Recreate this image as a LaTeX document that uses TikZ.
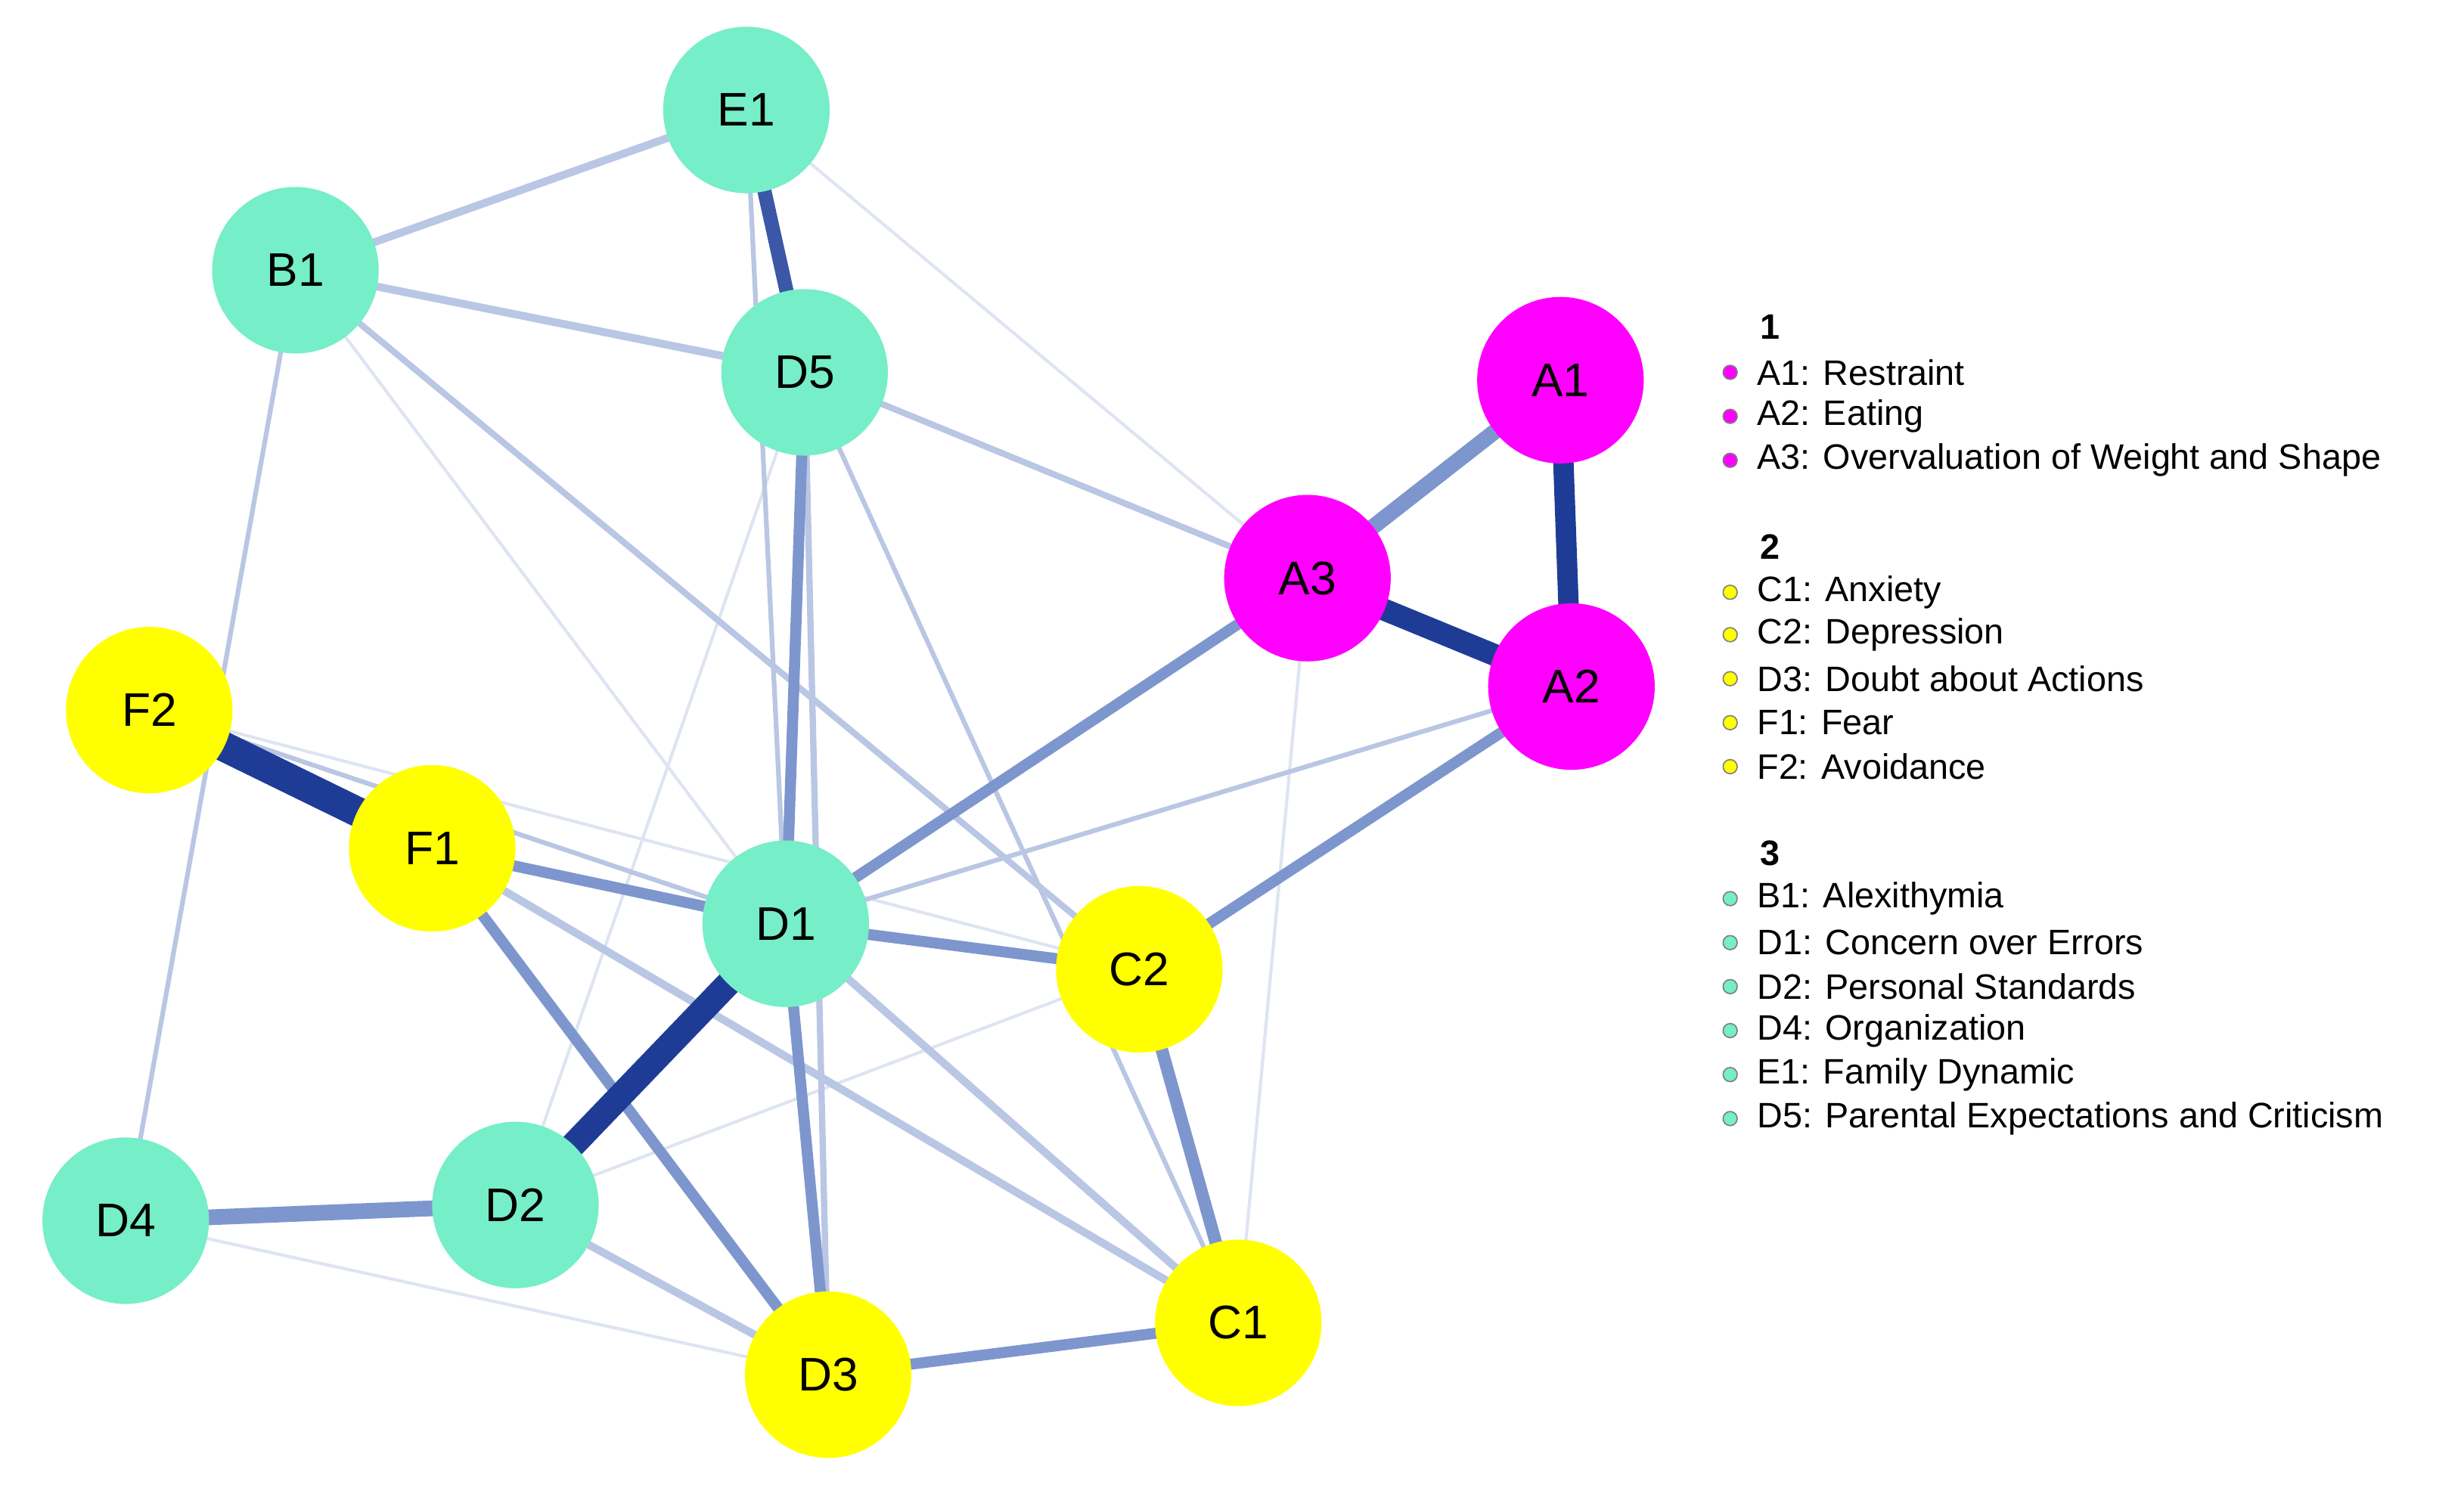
\documentclass[tikz,border=0pt]{standalone}
\usepackage{fontspec}
\setmainfont{Liberation Sans}
\begin{document}
\begin{tikzpicture}[x=1pt,y=-1pt,
  nd/.style={circle,minimum size=106pt,inner sep=0pt,font=\fontsize{30}{30}\selectfont},
  cy/.style={nd,fill=cyanN},
  ye/.style={nd,fill=yelN},
  ma/.style={nd,fill=magN},
  e/.style={line width=#1},
  dk/.style={draw=edk},
  md/.style={draw=emd},
  lt/.style={draw=elt},
  fa/.style={draw=efa},
  lg/.style={anchor=west,font=\fontsize{22.5}{22.5}\selectfont,inner sep=0pt},
  lh/.style={lg,font=\fontsize{22.5}{22.5}\selectfont\bfseries},
  dot/.style={circle,draw=gray,line width=0.8pt,minimum size=9pt,inner sep=0pt}]
\definecolor{cyanN}{RGB}{118,238,200}
\definecolor{yelN}{RGB}{255,255,0}
\definecolor{magN}{RGB}{255,0,255}
\definecolor{edk}{RGB}{30,60,150}
\definecolor{emd}{RGB}{125,150,205}
\definecolor{elt}{RGB}{185,198,228}
\definecolor{efa}{RGB}{222,228,242}
\useasboundingbox (0,0) rectangle (1568,947);
\path
 (475,70) coordinate (pE1) (188,172) coordinate (pB1) (512,237) coordinate (pD5)
 (993,242) coordinate (pA1) (832,368) coordinate (pA3) (1000,437) coordinate (pA2)
 (95,452) coordinate (pF2) (275,540) coordinate (pF1) (500,588) coordinate (pD1)
 (725,617) coordinate (pC2) (80,777) coordinate (pD4) (328,767) coordinate (pD2)
 (527,875) coordinate (pD3) (788,842) coordinate (pC1);
% edges
\draw[fa,e=2] (pE1)--(pA3);
\draw[fa,e=2] (pB1)--(pD1);
\draw[fa,e=2] (pF2)--(pC2);
\draw[fa,e=2] (pD4)--(pD3);
\draw[fa,e=2] (pA3)--(pC1);
\draw[fa,e=2] (pD5)--(pD2);
\draw[fa,e=2] (pD2)--(pC2);
\draw[lt,e=3] (pB1)--(pD4);
\draw[lt,e=3] (pE1)--(pD1);
\draw[lt,e=3] (pD5)--(pC1);
\draw[lt,e=3] (pA2)--(pD1);
\draw[lt,e=3] (pF2)--(pD1);
\draw[lt,e=4] (pD5)--(pA3);
\draw[lt,e=4] (pD5)--(pD3);
\draw[lt,e=5] (pE1)--(pB1);
\draw[lt,e=5] (pB1)--(pD5);
\draw[lt,e=4] (pB1)--(pC2);
\draw[lt,e=5] (pF1)--(pC1);
\draw[lt,e=5] (pD1)--(pC1);
\draw[lt,e=5] (pD2)--(pD3);
\draw[md,e=7] (pD5)--(pD1);
\draw[md,e=7] (pA3)--(pD1);
\draw[md,e=7] (pA2)--(pC2);
\draw[md,e=7] (pF1)--(pD1);
\draw[md,e=7] (pF1)--(pD3);
\draw[md,e=7] (pD1)--(pC2);
\draw[md,e=7] (pD1)--(pD3);
\draw[md,e=7] (pD3)--(pC1);
\draw[md,e=8] (pC2)--(pC1);
\draw[md,e=10] (pA1)--(pA3);
\draw[md,e=10] (pD4)--(pD2);
\draw[draw=edk!70!emd,e=9] (pE1)--(pD5);
\draw[dk,e=13] (pA1)--(pA2);
\draw[dk,e=14] (pA3)--(pA2);
\draw[dk,e=16] (pD1)--(pD2);
\draw[dk,e=19] (pF2)--(pF1);
% nodes
\node[cy] (E1) at (pE1) {E1};
\node[cy] (B1) at (pB1) {B1};
\node[cy] (D5) at (pD5) {D5};
\node[ma] (A1) at (pA1) {A1};
\node[ma] (A3) at (pA3) {A3};
\node[ma] (A2) at (pA2) {A2};
\node[ye] (F2) at (pF2) {F2};
\node[ye] (F1) at (pF1) {F1};
\node[cy] (D1) at (pD1) {D1};
\node[ye] (C2) at (pC2) {C2};
\node[cy] (D4) at (pD4) {D4};
\node[cy] (D2) at (pD2) {D2};
\node[ye] (D3) at (pD3) {D3};
\node[ye] (C1) at (pC1) {C1};
% legend
\node[lh] (h1) at (1120,208) {1};
\node[lh] (h2) at (1120,348) {2};
\node[lh] (h3) at (1120,543) {3};
\foreach \y/\t/\c [count=\i] in {
 237/A1: Restraint/magN, 265/A2: Eating/magN, 293/A3: Overvaluation of Weight and Shape/magN,
 377/C1: Anxiety/yelN, 404/C2: Depression/yelN, 432/D3: Doubt about Actions/yelN, 460/F1: Fear/yelN, 488/F2: Avoidance/yelN,
 572/B1: Alexithymia/cyanN, 600/D1: Concern over Errors/cyanN, 628/D2: Personal Standards/cyanN, 656/D4: Organization/cyanN, 684/E1: Family Dynamic/cyanN, 712/D5: Parental Expectations and Criticism/cyanN}{
 \node[dot,fill=\c] (ld\i) at (1101,\y) {};
 \node[lg] (lt\i) at (1118,\y) {\t};
}
\end{tikzpicture}
\end{document}
